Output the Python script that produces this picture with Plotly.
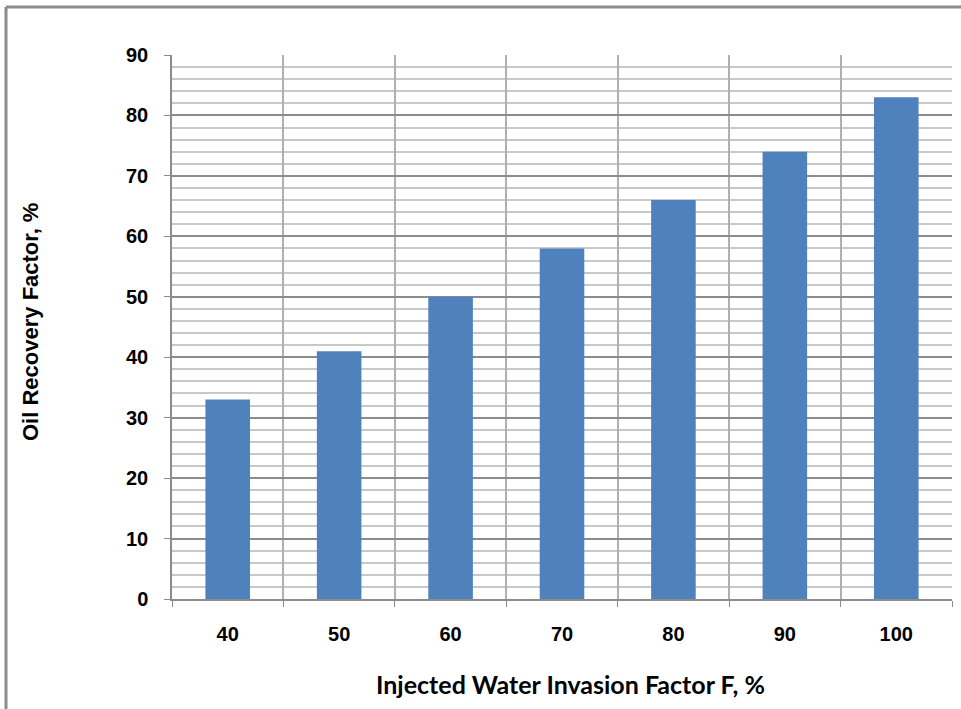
import plotly.graph_objects as go

categories = ["40", "50", "60", "70", "80", "90", "100"]
recovery = [33, 41, 50, 58, 66, 74, 83]
y_ticks = [0, 10, 20, 30, 40, 50, 60, 70, 80, 90]

fig = go.Figure()
fig.add_trace(go.Bar(x=categories, y=recovery, marker=dict(color="#4F81BD", line=dict(width=0)),
                     hoverinfo="x+y"))

W, H = 961, 709
L, R, T, B = 172, 9, 55, 110
pw = W - L - R
ph = H - T - B

def px_x(x):
    return (x - L) / pw

def px_y(y):
    return (H - B - y) / ph

fig.update_layout(
    width=W, height=H,
    margin=dict(l=L, r=R, t=T, b=B),
    paper_bgcolor="white", plot_bgcolor="white",
    bargap=0.6,
    showlegend=False,
    font=dict(family="Liberation Sans, Arial, sans-serif", color="black"),
    xaxis=dict(
        type="category",
        tickson="boundaries",
        showgrid=True, gridcolor="#b0b0b0", gridwidth=1.5,
        showline=True, linecolor="#8c8c8c", linewidth=1.5,
        ticks="outside", ticklen=6, tickcolor="#8c8c8c",
        ticklabelstandoff=16,
        tickfont=dict(size=20, family="Liberation Sans, Arial", weight="bold"),
    ),
    yaxis=dict(
        range=[0, 90], tickvals=y_ticks,
        showgrid=True, gridcolor="#8c8c8c", gridwidth=1.5,
        minor=dict(dtick=2, showgrid=True, gridcolor="#c8c8c8", gridwidth=1.5),
        showline=True, linecolor="#8c8c8c", linewidth=1.5,
        ticks="outside", ticklen=6, tickcolor="#8c8c8c",
        ticklabelstandoff=12,
        tickfont=dict(size=20, family="Liberation Sans, Arial", weight="bold"),
        zeroline=False,
    ),
)

fig.add_annotation(text="<b>Injected Water Invasion Factor F, %</b>", xref="paper", yref="paper",
                   x=px_x(570), y=px_y(684), showarrow=False, xanchor="center", yanchor="middle",
                   font=dict(size=25, family="Lato, Open Sans, sans-serif", color="black"))
fig.add_annotation(text="<b>Oil Recovery Factor, %</b>", xref="paper", yref="paper",
                   x=px_x(30), y=px_y(322), showarrow=False, xanchor="center", yanchor="middle",
                   textangle=-90,
                   font=dict(size=22, family="Liberation Sans, Arial", color="black"))

# outer chart border (top and left edges visible)
x0 = px_x(6)
y1 = px_y(7)
fig.add_shape(type="line", xref="paper", yref="paper", x0=x0, x1=px_x(970), y0=y1, y1=y1,
              line=dict(color="#8c8c8c", width=3))
fig.add_shape(type="line", xref="paper", yref="paper", x0=x0, x1=x0, y0=y1, y1=px_y(720),
              line=dict(color="#8c8c8c", width=3))

fig.write_html("out.html", config={"displayModeBar": False},
               post_script="document.body.style.margin='0';document.body.style.overflow='hidden';")
